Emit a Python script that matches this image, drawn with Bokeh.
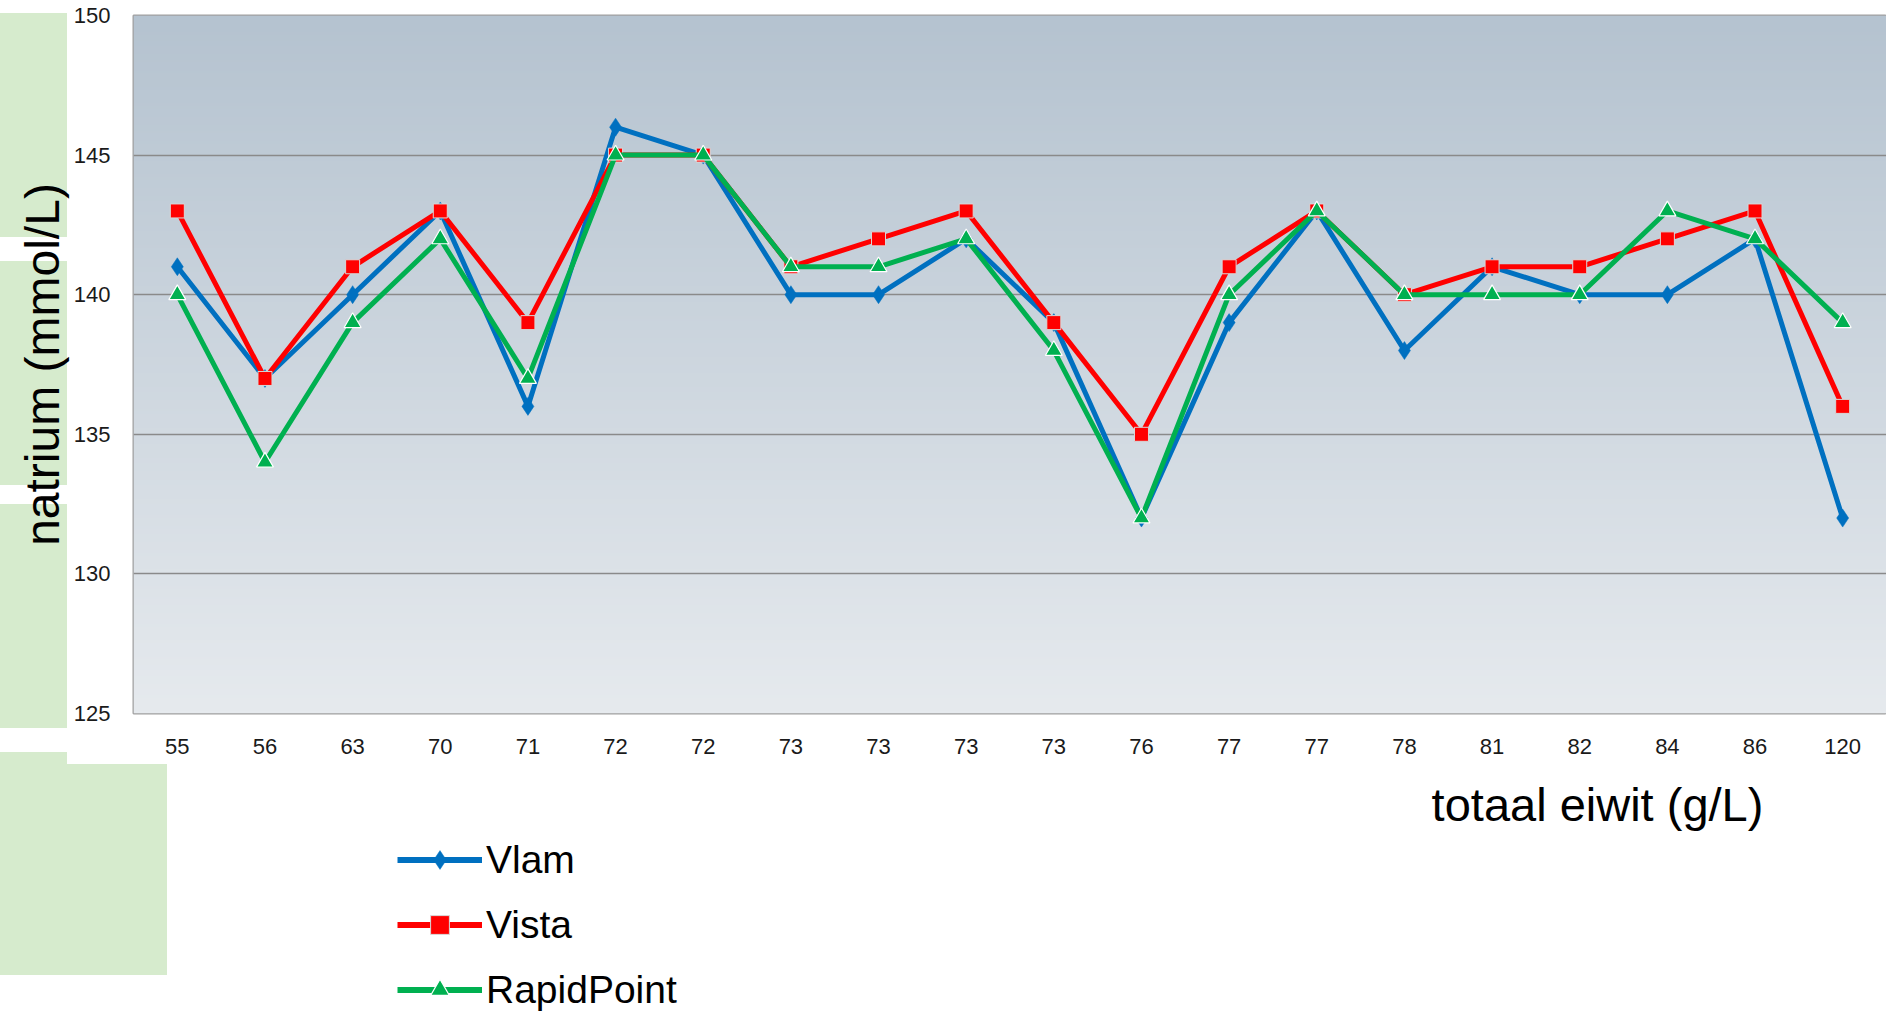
import numpy as np
from bokeh.plotting import figure
from bokeh.layouts import column
from bokeh.models import (Range1d, FixedTicker, Legend, LegendItem, Label,
                          InlineStyleSheet)
from bokeh.embed import file_html
from bokeh.resources import INLINE

# ---- data ----
eiwit_labels = ["55", "56", "63", "70", "71", "72", "72", "73", "73", "73",
                "73", "76", "77", "77", "78", "81", "82", "84", "86", "120"]
vlam = [141, 137, 140, 143, 136, 146, 145, 140, 140, 142,
        139, 132, 139, 143, 138, 141, 140, 140, 142, 132]
vista = [143, 137, 141, 143, 139, 145, 145, 141, 142, 143,
         139, 135, 141, 143, 140, 141, 141, 142, 143, 136]
rapidpoint = [140, 134, 139, 142, 137, 145, 145, 141, 141, 142,
              138, 132, 140, 143, 140, 140, 140, 143, 142, 139]
y_ticks = [125, 130, 135, 140, 145, 150]
series_names = ["Vlam", "Vista", "RapidPoint"]
x_title = "totaal eiwit (g/L)"
y_title = "natrium (mmol/L)"

FONT = "Liberation Sans"
W = 1886
H1 = 760
H2 = 253
xs = list(range(len(eiwit_labels)))
series = [vlam, vista, rapidpoint]

p = figure(width=W, height=H1, output_backend="svg", toolbar_location=None,
           x_range=Range1d(-0.5, len(eiwit_labels) - 0.5),
           y_range=Range1d(y_ticks[0], y_ticks[-1]),
           min_border_left=133, min_border_right=0, min_border_top=15,
           min_border_bottom=H1 - 713)
p.background_fill_color = "white"
p.border_fill_alpha = 0
p.outline_line_color = "#a0a0a0"
p.outline_line_width = 2

# decorative green slide boxes behind the figures (CSS background)
g = "linear-gradient(#d6ebcd,#d6ebcd)"
css1 = (":host { background: "
        f"{g} 0px 13px / 67px 224px no-repeat, "
        f"{g} 0px 261px / 67px 224px no-repeat, "
        f"{g} 0px 504px / 67px 224px no-repeat, "
        f"{g} 0px 752px / 67px 14px no-repeat; }}")
p.stylesheets = [InlineStyleSheet(css=css1)]

# gradient plot background (decoration)
n = 256
top_c = np.array([181, 195, 208])
bot_c = np.array([230, 234, 238])
t = np.linspace(0, 1, n)[:, None]
cols = (bot_c[None, :] * (1 - t) + top_c[None, :] * t).astype(np.uint8)
img = np.empty((n, 1), dtype=np.uint32)
view = img.view(dtype=np.uint8).reshape((n, 1, 4))
view[:, 0, 0] = cols[:, 0]
view[:, 0, 1] = cols[:, 1]
view[:, 0, 2] = cols[:, 2]
view[:, 0, 3] = 255
p.image_rgba(image=[img], x=-0.5, y=y_ticks[0], dw=len(eiwit_labels),
             dh=y_ticks[-1] - y_ticks[0], level="image")

# grid
p.xgrid.visible = False
p.ygrid.ticker = FixedTicker(ticks=y_ticks)
p.ygrid.grid_line_color = "#8a8a8a"
p.ygrid.grid_line_width = 1.5

# y axis
p.yaxis.ticker = FixedTicker(ticks=y_ticks)
p.yaxis.axis_line_color = None
p.yaxis.major_tick_line_color = None
p.yaxis.minor_tick_line_color = None
p.yaxis.major_label_text_font = FONT
p.yaxis.major_label_text_font_size = "22px"
p.yaxis.major_label_text_color = "#1a1a1a"
p.yaxis.major_label_standoff = 17
p.yaxis.axis_label = y_title
p.yaxis.axis_label_text_font = FONT
p.yaxis.axis_label_text_font_size = "48px"
p.yaxis.axis_label_text_font_style = "normal"
p.yaxis.axis_label_text_color = "black"
p.yaxis.axis_label_standoff = 2

# x axis
p.xaxis.ticker = FixedTicker(ticks=xs)
p.xaxis.major_label_overrides = {i: lab for i, lab in zip(xs, eiwit_labels)}
p.xaxis.axis_line_color = None
p.xaxis.major_tick_line_color = None
p.xaxis.minor_tick_line_color = None
p.xaxis.major_label_text_font = FONT
p.xaxis.major_label_text_font_size = "22px"
p.xaxis.major_label_text_color = "#1a1a1a"
p.xaxis.major_label_standoff = 19

# series
styles = [
    ("#0070c0", "diamond", 18, "#0070c0", 0.5),
    ("#ff0000", "square", 14, "#d8d8d8", 1.0),
    ("#00b050", "triangle", 17, "white", 1.2),
]
for data, (col, mk, sz, lc, lw) in zip(series, styles):
    p.line(xs, data, line_color=col, line_width=5)
    p.scatter(xs, data, marker=mk, size=sz, fill_color=col,
              line_color=lc, line_width=lw)

# ---- lower strip: x-axis title and legend ----
q = figure(width=W, height=H2, output_backend="svg", toolbar_location=None,
           x_range=Range1d(-0.5, len(eiwit_labels) - 0.5),
           y_range=Range1d(y_ticks[0], y_ticks[-1]),
           x_axis_location=None, y_axis_location=None,
           min_border_left=0, min_border_right=0, min_border_top=0,
           min_border_bottom=0)
q.grid.visible = False
q.outline_line_color = None
q.background_fill_alpha = 0
q.border_fill_alpha = 0
css2 = (":host { background: "
        f"{g} 0px {752 - H1}px / 67px 14px no-repeat, "
        f"{g} 0px {764 - H1}px / 167px 211px no-repeat; }}")
q.stylesheets = [InlineStyleSheet(css=css2)]

q.add_layout(Label(x=1464, y=H2 - (804 - H1), x_units="screen", y_units="screen",
                   text=x_title, text_align="center", text_baseline="middle",
                   text_font=FONT, text_font_size="47px", text_color="black"))

items = []
for name, data, (col, mk, sz, lc, lw) in zip(series_names, series, styles):
    ln = q.line(xs, data, line_color=col, line_width=6, visible=False)
    sc = q.scatter(xs, data, marker=mk, size=sz, fill_color=col,
                   line_color=lc, line_width=lw, visible=False)
    items.append(LegendItem(label=name, renderers=[ln, sc]))

legend = Legend(items=items, location=(264, 0), orientation="vertical",
                glyph_width=85, glyph_height=47, label_height=47, spacing=18,
                label_standoff=4, padding=0, margin=0,
                border_line_color=None, background_fill_alpha=0,
                inactive_fill_alpha=0,
                label_text_font=FONT, label_text_font_size="39px",
                label_text_color="black")
q.add_layout(legend, "center")

layout = column(p, q, spacing=0)
open("out.html", "w").write(file_html(layout, INLINE))
